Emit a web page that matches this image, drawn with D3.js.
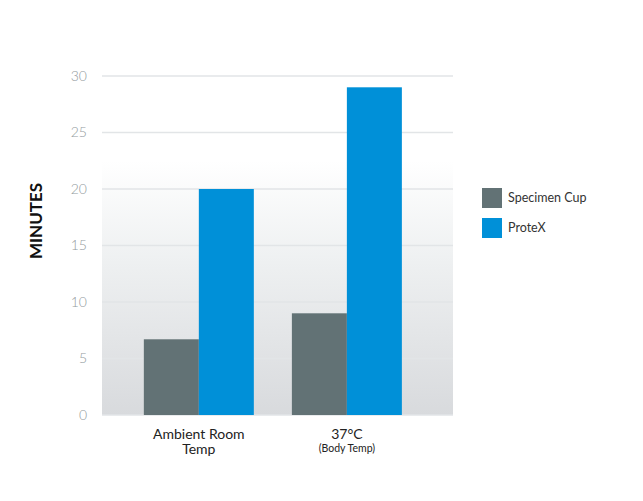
<!DOCTYPE html>
<html>
<head>
<meta charset="utf-8">
<script src="https://cdn.jsdelivr.net/npm/d3@7"></script>
<style>
  body { margin: 0; background: #fff; }
  svg { display: block; font-family: Lato, "Noto Sans", sans-serif; }
</style>
</head>
<body>
<svg id="chart" width="643" height="501"></svg>
<script>
var categories = ["Ambient Room Temp", "37°C"]
var catLines = [["Ambient Room", "Temp"], ["37°C", "(Body Temp)"]]
var series = ["Specimen Cup", "ProteX"]
var specimenCup = [6.7, 9]
var protex = [20, 29]
var yTicks = [0, 5, 10, 15, 20, 25, 30]
var colors = ["#627275", "#0090d8"]

var svg = d3.select("#chart")
var plotLeft = 102, plotRight = 453, plotTop = 76, plotBottom = 415

var x = d3.scaleBand().domain(categories).range([plotLeft, plotRight])
  .paddingInner(0.257).paddingOuter(0.314).align(0.45)
var x1 = d3.scaleBand().domain(series).range([0, x.bandwidth()])
var y = d3.scaleLinear().domain([0, 30]).range([plotBottom, plotTop])

// background gradient
var defs = svg.append("defs")
var grad = defs.append("linearGradient").attr("id", "bg")
  .attr("x1", 0).attr("y1", 1).attr("x2", 0).attr("y2", 0)
grad.append("stop").attr("offset", "0%").attr("stop-color", "#d8dadd")
grad.append("stop").attr("offset", "45%").attr("stop-color", "#eef0f1")
grad.append("stop").attr("offset", "75%").attr("stop-color", "#ffffff")
grad.append("stop").attr("offset", "100%").attr("stop-color", "#ffffff")

svg.append("rect")
  .attr("x", plotLeft).attr("y", plotTop)
  .attr("width", plotRight - plotLeft).attr("height", plotBottom - plotTop)
  .attr("fill", "url(#bg)")

// gridlines
svg.selectAll(".grid").data(yTicks).enter().append("line")
  .attr("class", "grid")
  .attr("x1", plotLeft).attr("x2", plotRight)
  .attr("y1", function(d){ return y(d) }).attr("y2", function(d){ return y(d) })
  .attr("stroke", "#e2e5e7").attr("stroke-width", 1.5)

// y tick labels
svg.selectAll(".ytick").data(yTicks).enter().append("text")
  .attr("class", "ytick")
  .attr("x", 87).attr("y", function(d){ return y(d) })
  .attr("dy", "0.35em")
  .attr("text-anchor", "end")
  .attr("font-size", 14)
  .attr("font-weight", 300)
  .attr("fill", "#939b9e")
  .text(function(d){ return d })

// bars
var groups = svg.selectAll(".grp").data(categories).enter().append("g")
  .attr("class", "grp")
  .attr("transform", function(d){ return "translate(" + x(d) + ",0)" })

groups.selectAll("rect")
  .data(function(d, i){ return [specimenCup[i], protex[i]] })
  .enter().append("rect")
  .attr("x", function(d, j){ return x1(series[j]) })
  .attr("width", x1.bandwidth())
  .attr("y", function(d){ return y(d) })
  .attr("height", function(d){ return plotBottom - y(d) })
  .attr("fill", function(d, j){ return colors[j] })

// x labels
categories.forEach(function(c, i){
  var cx = x(c) + x.bandwidth() / 2
  svg.append("text")
    .attr("x", cx).attr("y", 439)
    .attr("text-anchor", "middle")
    .attr("font-size", 14)
    .attr("fill", "#222")
    .text(catLines[i][0])
  svg.append("text")
    .attr("x", cx).attr("y", i == 0 ? 454 : 452)
    .attr("text-anchor", "middle")
    .attr("font-size", i == 0 ? 14 : 10.5)
    .attr("fill", "#222")
    .text(catLines[i][1])
})

// y title
svg.append("text")
  .attr("transform", "translate(42,221) rotate(-90)")
  .attr("text-anchor", "middle")
  .attr("font-size", 17)
  .attr("font-weight", 700)
  .attr("fill", "#111")
  .text("MINUTES")

// legend
var legend = svg.selectAll(".leg").data(series).enter().append("g")
  .attr("class", "leg")
  .attr("transform", function(d, i){ return "translate(482," + (188 + i * 30) + ")" })
legend.append("rect")
  .attr("width", 20).attr("height", 20)
  .attr("fill", function(d, i){ return colors[i] })
legend.append("text")
  .attr("x", 26).attr("y", 10).attr("dy", "0.35em")
  .attr("font-size", 12.5)
  .attr("fill", "#333")
  .text(function(d){ return d })
</script>
</body>
</html>
